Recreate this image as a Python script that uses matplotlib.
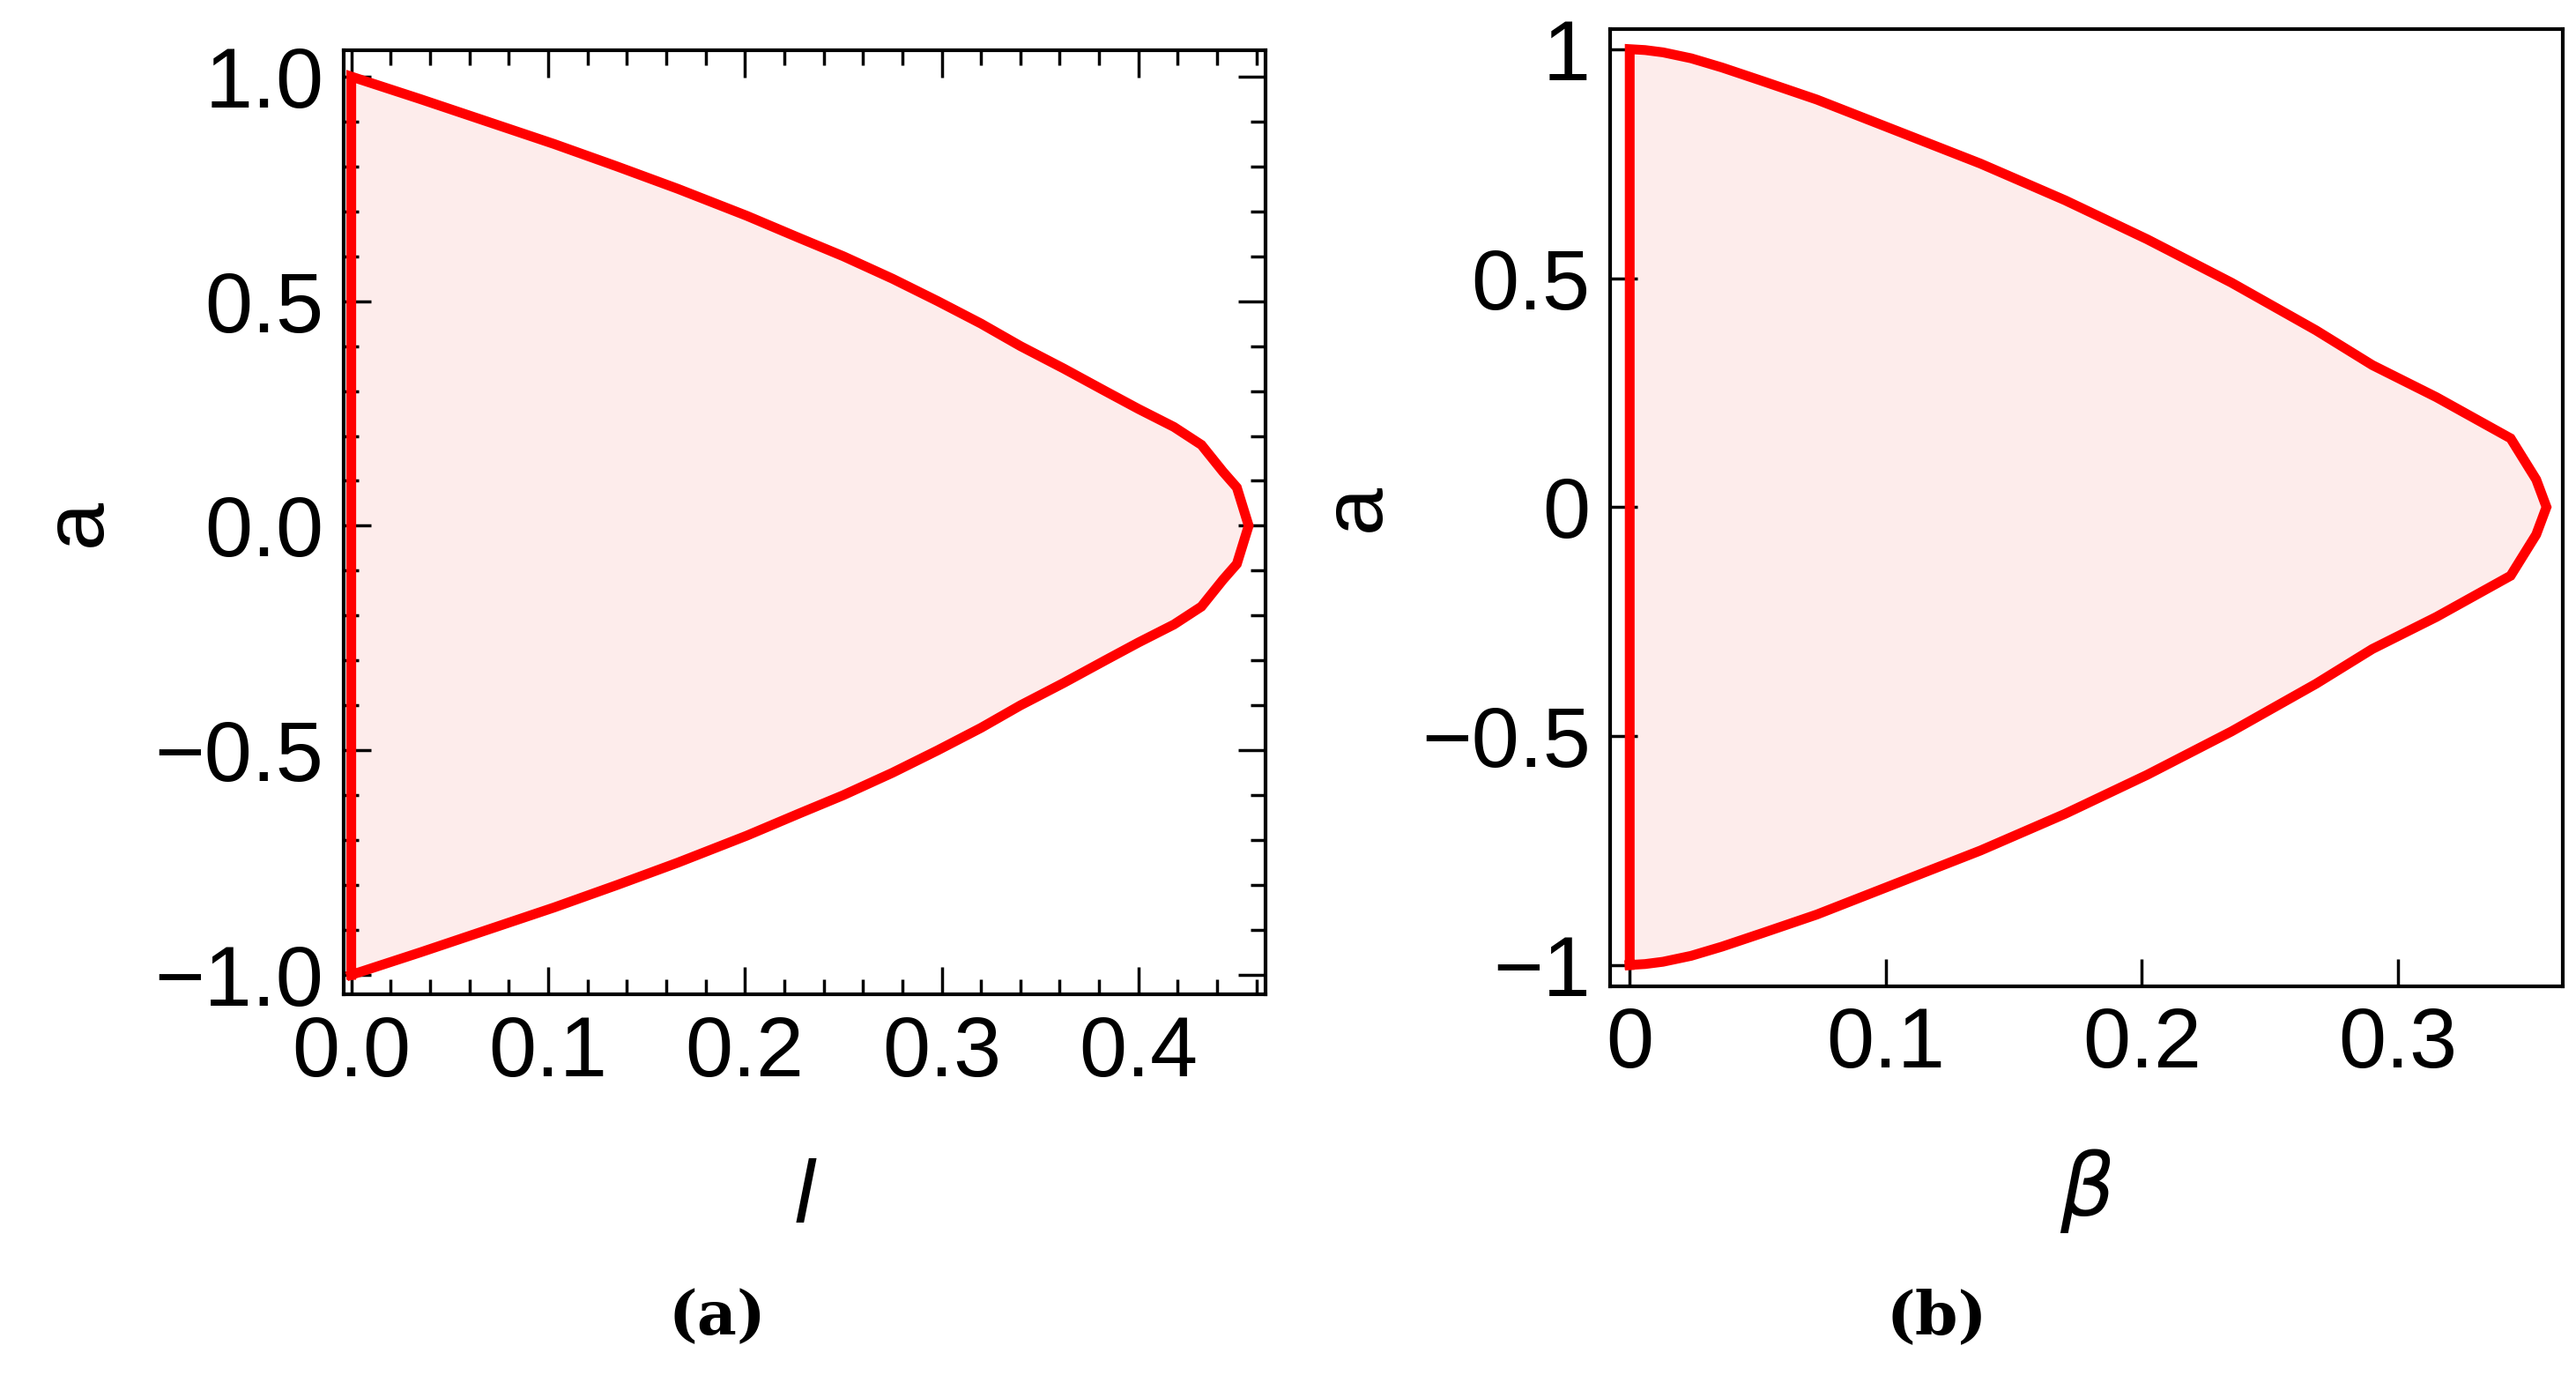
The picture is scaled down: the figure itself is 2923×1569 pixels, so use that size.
import matplotlib.pyplot as plt
from matplotlib.ticker import MultipleLocator

# boundary of region (a): upper half, from a=1 down to a=0
a_left = [1.0, 0.95, 0.9, 0.85, 0.8, 0.75, 0.69, 0.64, 0.6, 0.55, 0.5, 0.45, 0.4,
          0.35, 0.3, 0.26, 0.22, 0.18, 0.12, 0.085, 0.0]
l_left = [0.0, 0.035, 0.069, 0.103, 0.135, 0.166, 0.201, 0.228, 0.250, 0.275, 0.298,
          0.320, 0.340, 0.362, 0.383, 0.400, 0.418, 0.432, 0.443, 0.450, 0.456]

# boundary of region (b)
a_right = [1.0, 0.998, 0.993, 0.98, 0.96, 0.93, 0.89, 0.82, 0.75, 0.67, 0.585,
           0.49, 0.386, 0.31, 0.24, 0.15, 0.06, 0.0]
b_right = [0.0, 0.006, 0.013, 0.024, 0.036, 0.052, 0.073, 0.105, 0.137, 0.170,
           0.202, 0.235, 0.268, 0.290, 0.315, 0.344, 0.354, 0.358]

RED = '#ff0000'
FILL = '#fdeceb'
FS = 70

plt.rcParams['font.family'] = ['Liberation Sans', 'DejaVu Sans']
fig = plt.figure(figsize=(29.23, 15.69), dpi=100)


def closed(xs, ys):
    # mirror upper half to get the full closed contour
    px = [0.0] + list(xs) + list(reversed(xs))[1:] + [0.0]
    py = [-1.0] + list(ys) + [-y for y in reversed(ys)][1:] + [-1.0]
    return px, py


def draw(ax, xs, ys):
    px, py = closed(xs, ys)
    ax.fill(px, py, color=FILL, lw=0)
    ax.plot(px, py, color=RED, lw=8, solid_joinstyle='miter')
    for s in ax.spines.values():
        s.set_linewidth(3)


ax1 = fig.add_axes([0.1333, 0.2808, 0.358, 0.683])
draw(ax1, l_left, a_left)
ax1.set_xlim(-0.004, 0.4646)
ax1.set_ylim(-1.044, 1.059)
ax1.xaxis.set_minor_locator(MultipleLocator(0.02))
ax1.yaxis.set_minor_locator(MultipleLocator(0.1))
ax1.set_xticks([0, 0.1, 0.2, 0.3, 0.4])
ax1.set_xticklabels(['0.0', '0.1', '0.2', '0.3', '0.4'])
ax1.set_yticks([-1, -0.5, 0, 0.5, 1])
ax1.set_yticklabels(['\u22121.0', '\u22120.5', '0.0', '0.5', '1.0'])
ax1.tick_params(which='both', direction='in', top=True, right=True, width=2.5,
                labelsize=FS, pad=16)
ax1.tick_params(which='major', length=22)
ax1.tick_params(which='minor', length=12)
ax1.set_ylabel('a', fontsize=FS, labelpad=30)
ax1.set_xlabel('$l$', fontsize=FS, labelpad=55)

ax2 = fig.add_axes([0.625, 0.2867, 0.370, 0.692])
draw(ax2, b_right, a_right)
ax2.set_xlim(-0.0077, 0.3645)
ax2.set_ylim(-1.047, 1.043)
ax2.set_xticks([0, 0.1, 0.2, 0.3])
ax2.set_xticklabels(['0', '0.1', '0.2', '0.3'])
ax2.set_yticks([-1, -0.5, 0, 0.5, 1])
ax2.set_yticklabels(['\u22121', '\u22120.5', '0', '0.5', '1'])
ax2.tick_params(direction='in', length=22, width=2.5, labelsize=FS, pad=16)
ax2.set_ylabel('a', fontsize=FS, labelpad=20)
ax2.set_xlabel(r'$\beta$', fontsize=FS, labelpad=50)

fig.text(0.2785, 0.035, '(a)', fontsize=50, fontweight='bold',
         family='DejaVu Serif', ha='center')
fig.text(0.752, 0.035, '(b)', fontsize=50, fontweight='bold',
         family='DejaVu Serif', ha='center')

fig.savefig('out.png', dpi=100)
